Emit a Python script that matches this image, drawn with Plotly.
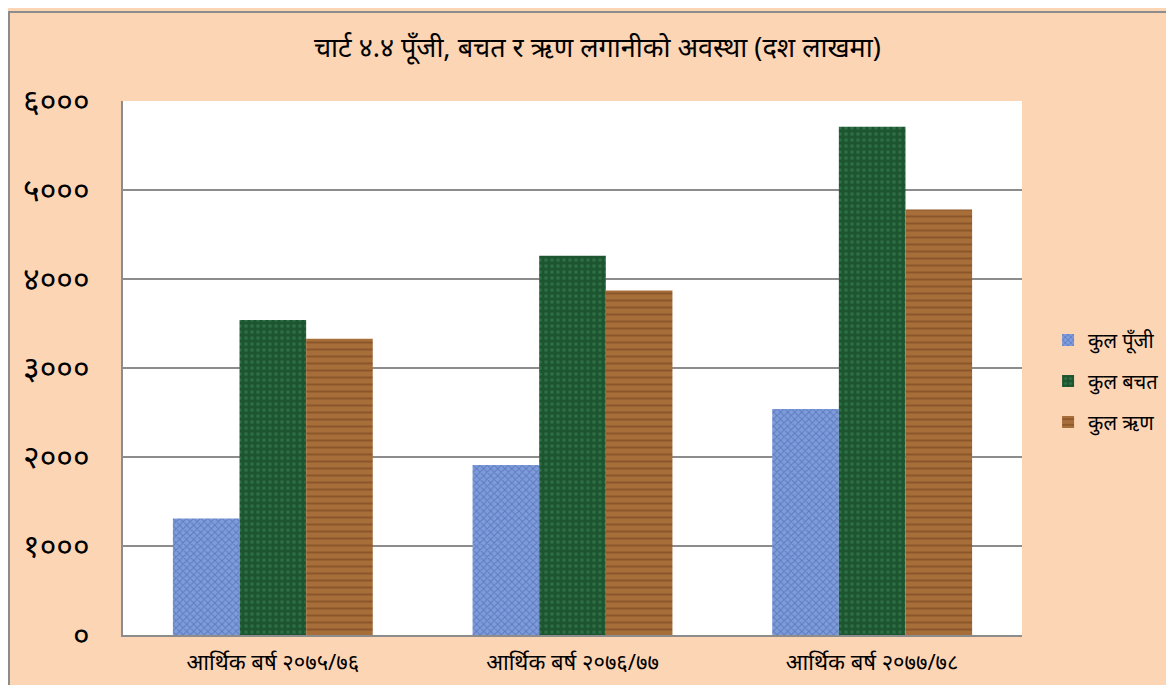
import plotly.graph_objects as go

categories = ["आर्थिक बर्ष २०७५/७६", "आर्थिक बर्ष २०७६/७७", "आर्थिक बर्ष २०७७/७८"]
series_names = ["कुल पूँजी", "कुल बचत", "कुल ऋण"]
punji = [1310, 1910, 2540]
bachat = [3540, 4260, 5710]
rin = [3330, 3870, 4780]
tick_vals = [0, 1000, 2000, 3000, 4000, 5000, 6000]
tick_text = ["०", "१०००", "२०००", "३०००", "४०००", "५०००", "६०००"]
title_text = "चार्ट ४.४ पूँजी, बचत र ऋण लगानीको अवस्था (दश लाखमा)"

styles = [
    dict(color="#7E9BDB", pattern=dict(shape="x", fgcolor="#3D5A9E", size=5, solidity=0.35)),
    dict(color="#1D5530", pattern=dict(shape=".", fgcolor="#3E8A58", size=6, solidity=0.3)),
    dict(color="#A86E3A", pattern=dict(shape="-", fgcolor="#6E3F1A", size=7, solidity=0.3)),
]
legend_ids = ["legend", "legend2", "legend3"]
legend_y = [0.5524, 0.4757, 0.3989]

fig = go.Figure()
for name, vals, st, lg in zip(series_names, [punji, bachat, rin], styles, legend_ids):
    fig.add_trace(go.Bar(x=categories, y=vals, name=name, legend=lg,
                         marker=dict(color=st["color"], pattern=st["pattern"], line=dict(width=0))))

BG = "#FCD5B5"
GRID = "#8C8C8C"
legend_common = dict(x=1.029, xanchor="left", yanchor="middle",
                     bgcolor="rgba(0,0,0,0)", font=dict(size=20), itemwidth=30)
fig.update_layout(
    width=1174, height=685,
    paper_bgcolor=BG, plot_bgcolor="white",
    margin=dict(l=115, r=160, t=93, b=58),
    barmode="group", bargap=0.333, bargroupgap=0,
    font=dict(family="Noto Sans, sans-serif", color="#000000"),
    title=dict(text=title_text, x=0.502, xref="container", xanchor="center",
               y=0.942, yref="container", yanchor="middle",
               font=dict(size=27, color="#000000")),
    showlegend=True,
    legend=dict(y=legend_y[0], **legend_common),
    legend2=dict(y=legend_y[1], **legend_common),
    legend3=dict(y=legend_y[2], **legend_common),
    xaxis=dict(showgrid=False, showline=True, linecolor=GRID, linewidth=2,
               ticks="", tickfont=dict(size=22), ticklabelstandoff=7),
    yaxis=dict(range=[0, 6000], tickvals=tick_vals, ticktext=tick_text,
               showgrid=True, gridcolor=GRID, gridwidth=2,
               showline=True, linecolor=GRID, linewidth=2,
               zeroline=False, ticks="", tickfont=dict(size=32),
               ticklabelstandoff=25),
    shapes=[dict(type="rect", xref="paper", yref="paper",
                 x0=-0.1268, y0=-0.5, x1=2, y1=1.1667,
                 line=dict(color=GRID, width=2), fillcolor="rgba(0,0,0,0)", layer="below")],
)

fig.write_html("out.html")
